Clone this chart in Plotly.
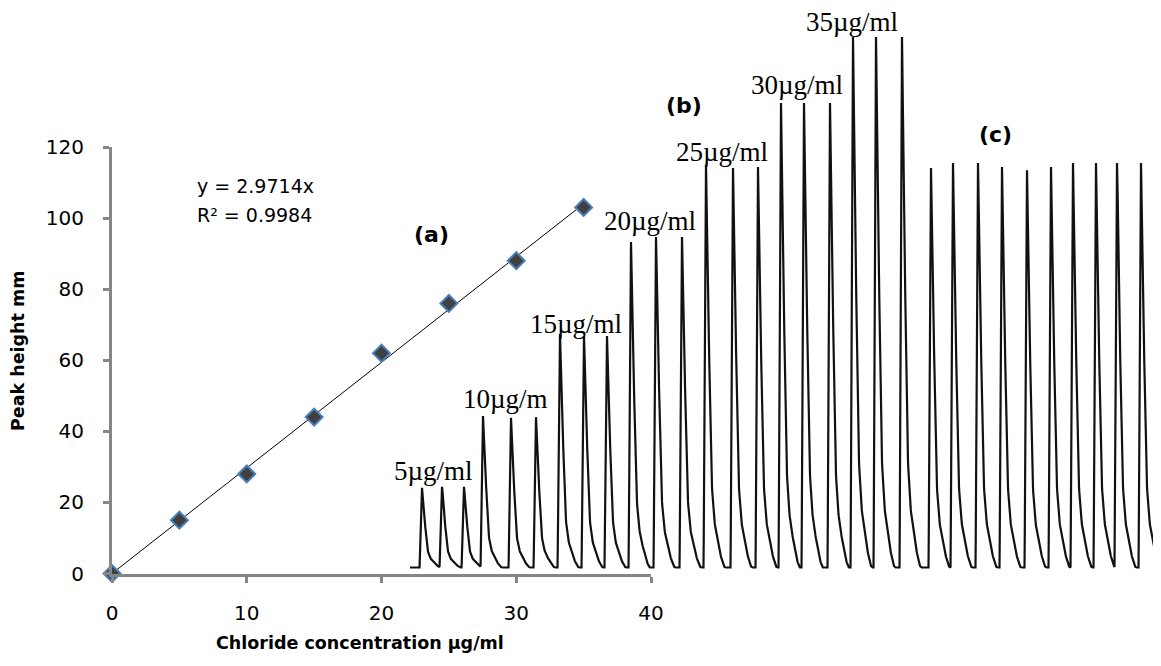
import numpy as np
import plotly.graph_objects as go

# ---------------- data ----------------
# calibration (a)
conc_ug_ml = [0, 5, 10, 15, 20, 25, 30, 35]
peak_height_mm = [0, 15, 28, 44, 62, 76, 88, 103]
fit_slope = 2.9714
fit_r2 = 0.9984
x_ticks = [0, 10, 20, 30, 40]
y_ticks = [0, 20, 40, 60, 80, 100, 120]

# FIA recorder trace (b) + (c): peak times (s) and recorder heights
peak_time_s = [12, 32, 54, 73, 101, 126, 150, 174, 197, 221, 246, 272,
               296, 323, 348, 371, 394, 420, 443, 466, 492,
               521, 543, 568, 592, 617, 641, 663, 686, 707, 731]
peak_signal = [22.4, 22.7, 22.7, 42.6, 42.1, 42.3, 65.7, 65.1, 65.1,
               91.6, 93.0, 93.0, 113.3, 112.4, 112.7, 130.7, 130.7, 130.7,
               149.3, 149.3, 149.3,
               112.4, 113.8, 113.8, 112.7, 111.8, 112.7, 113.8, 113.8, 113.8, 113.8]
trace_end_s = 751

# normalised single-peak profile
profile_dt = [-2.5, -1.5, -0.7, 0, 1, 2, 3, 4, 5, 6, 7, 8, 9, 10, 11, 12, 13, 14,
              15, 16, 17, 18, 19]
profile_f = [0, 0.3, 0.7, 1, 0.88, 0.72, 0.55, 0.4, 0.28, 0.2, 0.155, 0.125, 0.105,
             0.09, 0.075, 0.062, 0.05, 0.038, 0.027, 0.017, 0.009, 0.003, 0]

conc_labels = ["5µg/ml", "10µg/m", "15µg/ml", "20µg/ml", "25µg/ml", "30µg/ml", "35µg/ml"]

# ---------------- build trace ----------------
t = np.arange(0, trace_end_s + 0.001, 0.25)
t = np.unique(np.concatenate([t, np.array(peak_time_s, dtype=float)]))
sig = np.zeros_like(t)
for t0, h in zip(peak_time_s, peak_signal):
    sig += h * np.interp(t - t0, profile_dt, profile_f, left=0, right=0)

W, H = 1161, 666
OFF = 8  # page body margin


def px(x):
    return (x - OFF) / W


def py(y):
    return 1 - (y - OFF) / H


AX = "#868686"
SANS = "DejaVu Sans"
TICKFONT = dict(family=SANS, size=20, color="black")

fig = go.Figure()
fig.add_trace(go.Scatter(x=[0, conc_ug_ml[-1]], y=[0, fit_slope * conc_ug_ml[-1]],
                         mode="lines", line=dict(color="black", width=1),
                         showlegend=False, cliponaxis=False, hoverinfo="skip"))
fig.add_trace(go.Scatter(x=conc_ug_ml, y=peak_height_mm, mode="markers",
                         marker=dict(symbol="diamond", size=13, color="#404040",
                                     line=dict(color="#4a7ebb", width=2)),
                         showlegend=False, cliponaxis=False))
fig.add_trace(go.Scatter(x=t, y=sig, mode="lines", xaxis="x2", yaxis="y2",
                         line=dict(color="#111111", width=2.2), showlegend=False))

base_px = 567.5 - OFF
mm_px = 3.554
fig.update_layout(
    template="none",
    width=W, height=H, autosize=False,
    margin=dict(l=0, r=0, t=0, b=0, pad=0, autoexpand=False),
    paper_bgcolor="white", plot_bgcolor="rgba(0,0,0,0)",
    xaxis=dict(domain=[px(112), px(651)], range=[0, 40], tickvals=x_ticks,
               showline=True, linecolor=AX, linewidth=3, ticks="outside", ticklen=6,
               tickwidth=3, tickcolor=AX, showgrid=False, zeroline=False, automargin=False,
               tickfont=TICKFONT, anchor="y", ticklabelstandoff=13),
    yaxis=dict(domain=[py(573.5), py(147)], range=[0, 120], tickvals=y_ticks,
               showline=True, linecolor=AX, linewidth=3, ticks="outside", ticklen=6,
               tickwidth=3, tickcolor=AX, showgrid=False, zeroline=False, automargin=False,
               tickfont=TICKFONT, anchor="x", ticklabelstandoff=15),
    xaxis2=dict(domain=[0, 1], range=[-(410 - OFF), W - (410 - OFF)], visible=False,
                anchor="y2", automargin=False),
    yaxis2=dict(domain=[0, 1], range=[-(H - base_px) / mm_px, base_px / mm_px], visible=False,
                anchor="x2", automargin=False),
)

ann = []
ann.append(dict(x=px(195), y=py(186), text="y = 2.9714x", xanchor="left", yanchor="middle",
                font=dict(family=SANS, size=19, color="black")))
ann.append(dict(x=px(195), y=py(215), text="R² = 0.9984", xanchor="left", yanchor="middle",
                font=dict(family=SANS, size=19, color="black")))
for txt, (cx, cy) in zip(["(a)", "(b)", "(c)"], [(431, 235), (684, 105), (996, 135)]):
    ann.append(dict(x=px(cx), y=py(cy), text="<b>" + txt + "</b>", xanchor="center", yanchor="middle",
                    font=dict(family=SANS, size=22, color="black")))
label_pos = [(433, 471), (505, 399), (576, 324), (650, 221), (722, 152), (797, 85), (852, 22)]
for txt, (cx, cy) in zip(conc_labels, label_pos):
    ann.append(dict(x=px(cx), y=py(cy), text=txt, xanchor="center", yanchor="middle",
                    font=dict(family="Liberation Serif", size=27, color="black")))
ann.append(dict(x=px(360), y=py(643), text="<b>Chloride concentration µg/ml</b>", xanchor="center",
                yanchor="middle", font=dict(family=SANS, size=17.5, color="black")))
ann.append(dict(x=px(18), y=py(351), text="<b>Peak height mm</b>", textangle=-90, xanchor="center",
                yanchor="middle", font=dict(family=SANS, size=17.5, color="black")))
for a in ann:
    a.update(xref="paper", yref="paper", showarrow=False)
fig.update_layout(annotations=ann)

fig.write_html("out.html")
